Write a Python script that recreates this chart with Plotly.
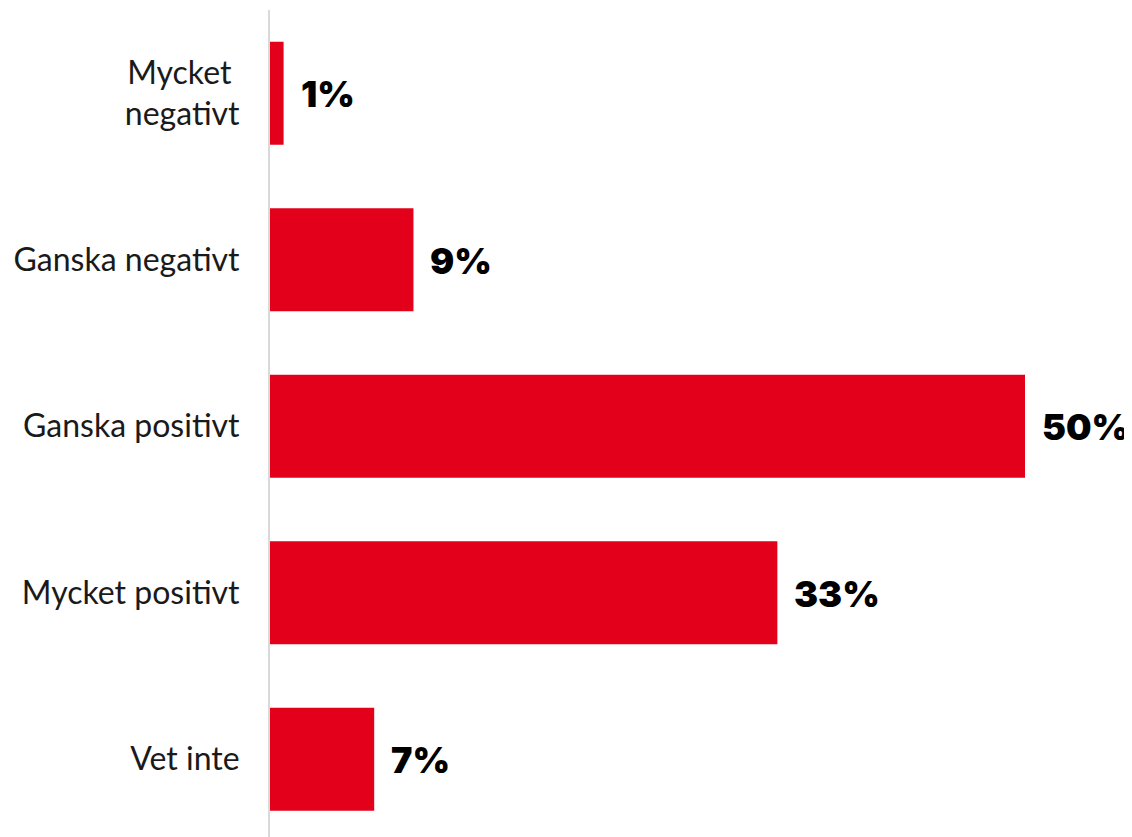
import plotly.graph_objects as go

categories = ["Mycket&nbsp;<br>negativt", "Ganska negativt", "Ganska positivt", "Mycket positivt", "Vet inte"]
values = [0.9, 9.5, 50.0, 33.6, 6.9]
value_labels = ["1%", "9%", "50%", "33%", "7%"]

RED = "#E3001B"

fig = go.Figure()
fig.add_trace(go.Bar(
    x=values, y=categories, orientation="h",
    marker=dict(color=RED, line=dict(width=0)),
    width=0.62, hoverinfo="skip",
))

for c, v, t in zip(categories, values, value_labels):
    fig.add_annotation(
        x=v, y=c, text=t, showarrow=False, xanchor="left", yanchor="middle",
        xshift=15, yshift=-1,
        font=dict(family="Inter", size=36, color="black", weight=900),
    )

fig.update_layout(
    width=1124, height=829,
    margin=dict(l=262, r=0, t=2, b=0),
    paper_bgcolor="white", plot_bgcolor="white",
    showlegend=False,
    font=dict(family="Lato", size=32, color="#1a1a1a"),
    xaxis=dict(range=[0, 862 / 15.1], visible=False, fixedrange=True),
    yaxis=dict(
        type="category",
        range=[4.467, -0.5],
        showline=True, linecolor="#d9d9d9", linewidth=2,
        showgrid=False, zeroline=False,
        ticks="", ticklabelstandoff=22,
        tickfont=dict(family="Lato", size=32, color="#1a1a1a"),
    ),
)

fig.write_html("out.html")
